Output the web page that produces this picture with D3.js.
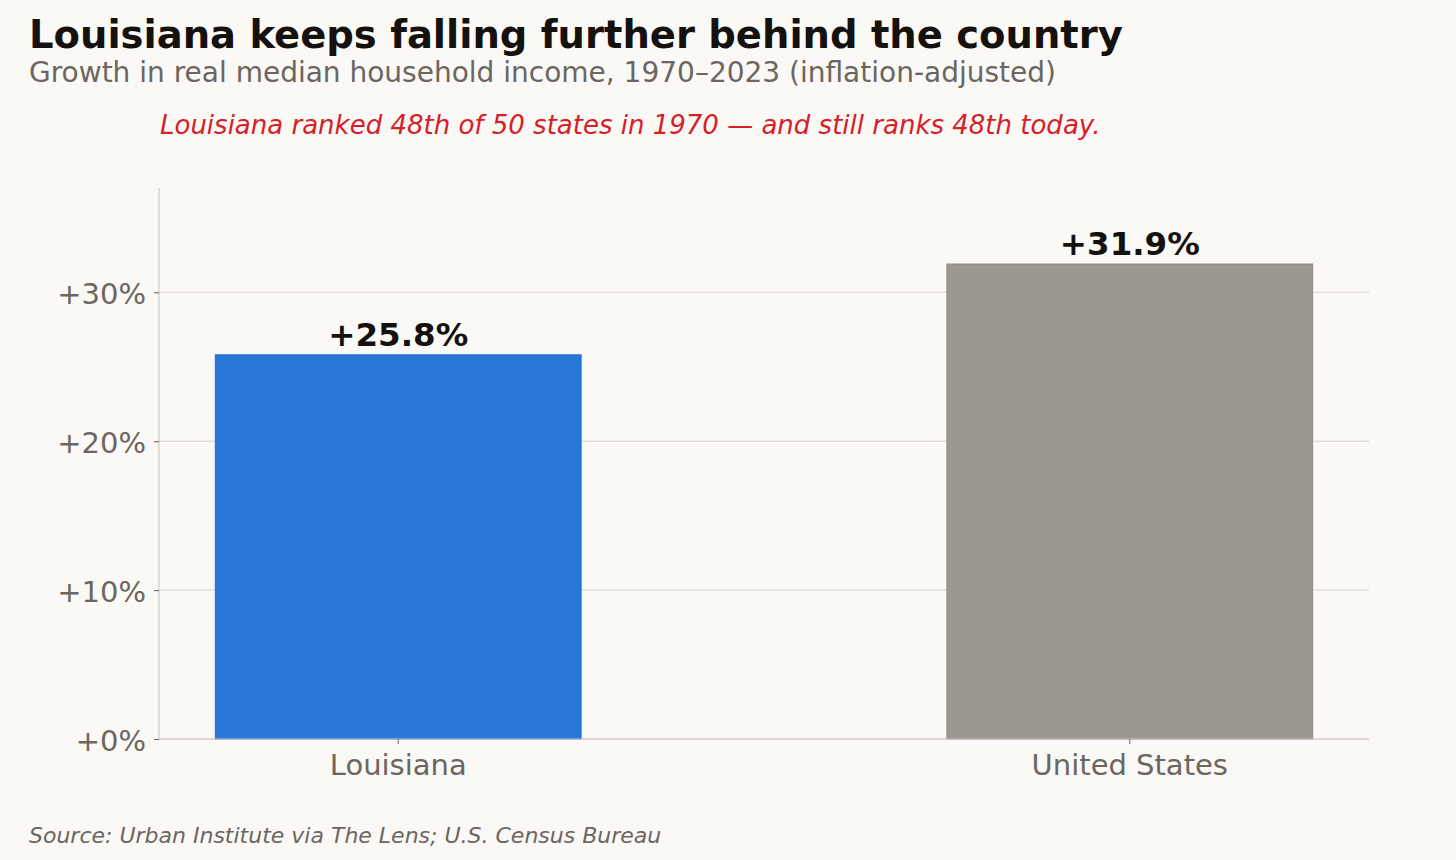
<!DOCTYPE html>
<html>
<head>
<meta charset="utf-8">
<script src="https://cdn.jsdelivr.net/npm/d3@7"></script>
<style>
  html, body { margin: 0; padding: 0; background: #faf9f6; }
  svg { display: block; }
</style>
</head>
<body>
<div id="chart"></div>
<script>
// data
const categories = ["Louisiana", "United States"];
const growth = [25.8, 31.9];
const barColors = ["#2a78d5", "#9b9890"];
const barEdges = ["#1c6ae0", "#8d8a83"];
const yTicks = [0, 10, 20, 30];

const width = 1456;
const height = 860;
const margin = { top: 188, right: 87, bottom: 121, left: 159 };
const font = "DejaVu Sans, sans-serif";

const svg = d3.select("#chart").append("svg")
  .attr("width", width)
  .attr("height", height)
  .style("font-family", font)
  .style("background", "#faf9f6");

const x = d3.scaleBand()
  .domain(categories)
  .range([margin.left, width - margin.right])
  .paddingInner(0.5)
  .paddingOuter(0.077);

const y = d3.scaleLinear()
  .domain([0, d3.max(growth) * 1.16])
  .range([height - margin.bottom, margin.top]);

// gridlines
svg.append("g")
  .selectAll("line")
  .data(yTicks)
  .join("line")
    .attr("x1", margin.left)
    .attr("x2", width - margin.right)
    .attr("y1", d => y(d))
    .attr("y2", d => y(d))
    .attr("stroke", "#e2dfd8")
    .attr("stroke-width", 1.5);

// bars
svg.append("g")
  .selectAll("rect")
  .data(categories)
  .join("rect")
    .attr("x", d => x(d))
    .attr("y", (d, i) => y(growth[i]))
    .attr("width", x.bandwidth())
    .attr("height", (d, i) => y(0) - y(growth[i]))
    .attr("fill", (d, i) => barColors[i])
    .attr("stroke", (d, i) => barEdges[i])
    .attr("stroke-width", 1);

// value labels
svg.append("g")
  .selectAll("text")
  .data(categories)
  .join("text")
    .attr("x", d => x(d) + x.bandwidth() / 2)
    .attr("y", (d, i) => y(growth[i]) - 9)
    .attr("text-anchor", "middle")
    .style("font-size", "32.5px")
    .style("font-weight", "700")
    .style("fill", "#14110f")
    .text((d, i) => "+" + growth[i].toFixed(1) + "%");

// y axis
const yAxis = svg.append("g")
  .attr("transform", `translate(${margin.left},0)`)
  .call(d3.axisLeft(y).tickValues(yTicks).tickFormat(d => "+" + d + "%").tickSize(5).tickPadding(8));
yAxis.select(".domain").attr("stroke", "#cfccc5").attr("stroke-width", 1.2)
  .attr("d", `M0,${y.range()[0]}V${y.range()[1]}`);
yAxis.selectAll(".tick line").attr("stroke", "#6b665f");
yAxis.selectAll(".tick text")
  .style("font-family", font)
  .style("font-size", "29px")
  .style("fill", "#6b665f")
  .attr("dy", "0.38em");

// x axis
const xAxis = svg.append("g")
  .attr("transform", `translate(0,${y(0)})`)
  .call(d3.axisBottom(x).tickSize(5).tickPadding(10));
xAxis.select(".domain").attr("stroke", "#cfccc5").attr("stroke-width", 1.2)
  .attr("d", `M${margin.left},0H${width - margin.right}`);
xAxis.selectAll(".tick line").attr("stroke", "#6b665f");
xAxis.selectAll(".tick text")
  .style("font-family", font)
  .style("font-size", "29px")
  .style("fill", "#6b665f");

// titles
svg.append("text")
  .attr("x", 29)
  .attr("y", 48)
  .style("font-size", "38.5px")
  .style("font-weight", "700")
  .style("fill", "#14110f")
  .text("Louisiana keeps falling further behind the country");

svg.append("text")
  .attr("x", 29)
  .attr("y", 82)
  .style("font-size", "28px")
  .style("fill", "#6b665f")
  .text("Growth in real median household income, 1970–2023 (inflation-adjusted)");

svg.append("text")
  .attr("x", 160)
  .attr("y", 134)
  .style("font-size", "26px")
  .style("font-style", "italic")
  .style("fill", "#d62027")
  .text("Louisiana ranked 48th of 50 states in 1970 — and still ranks 48th today.");

svg.append("text")
  .attr("x", 29)
  .attr("y", 843)
  .style("font-size", "22px")
  .style("font-style", "italic")
  .style("fill", "#6b665f")
  .text("Source: Urban Institute via The Lens; U.S. Census Bureau");
</script>
</body>
</html>
